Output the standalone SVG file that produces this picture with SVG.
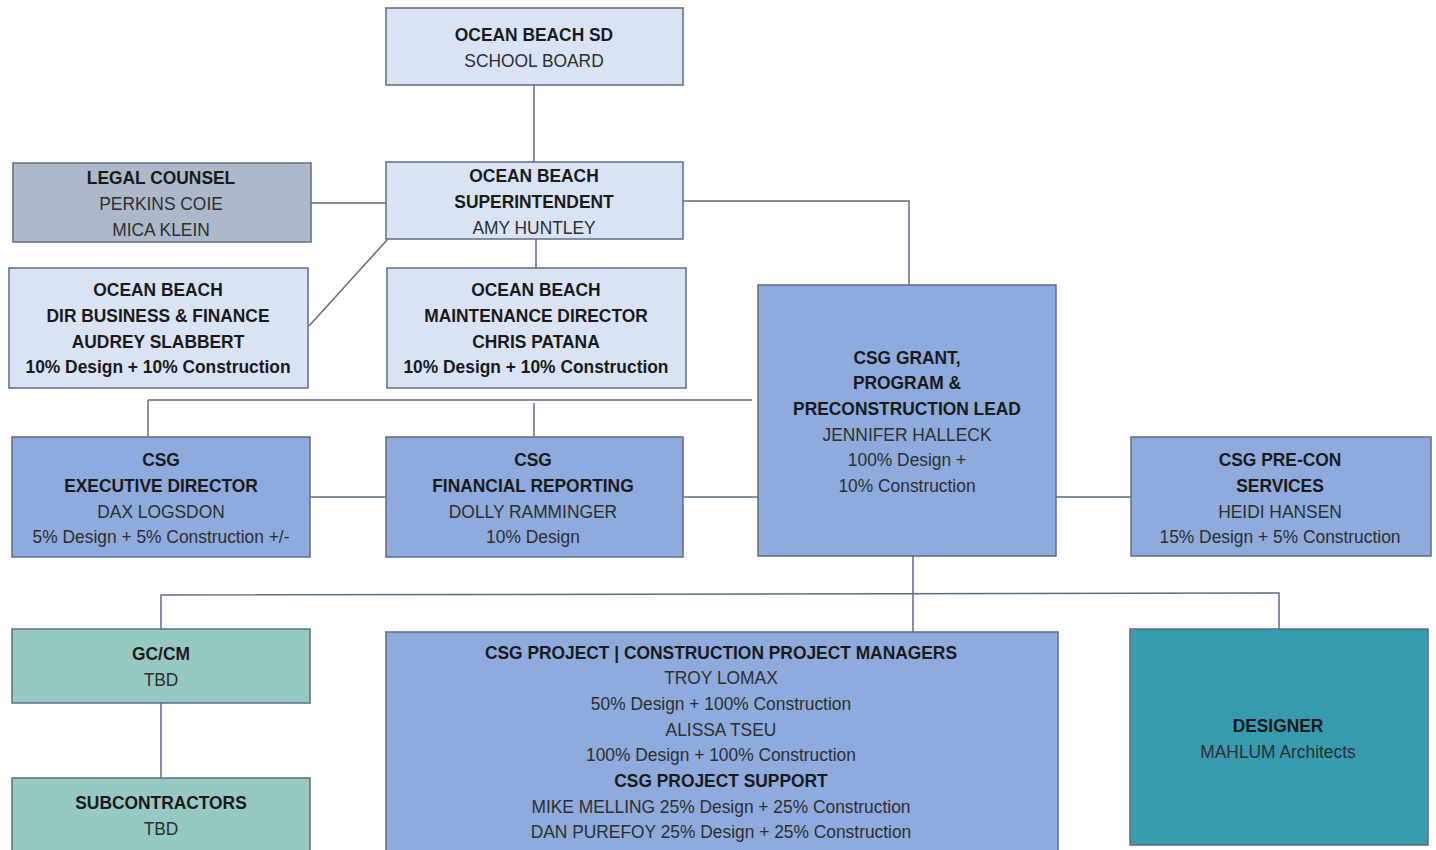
<svg xmlns="http://www.w3.org/2000/svg" width="1436" height="850" viewBox="0 0 1436 850">
<style>
rect{stroke:#5d6d84;stroke-width:1.5}
.lb{fill:#dae3f3}.gr{fill:#adb9ca}.mb{fill:#8faadc}.tl{fill:#97c9c3}.tk{fill:#379bb0}
text{font-family:"Liberation Sans",Arial,sans-serif;font-size:18.5px;text-anchor:middle;transform:scaleX(.94)}
.b{font-weight:bold;fill:#1a1a1a}.r{fill:#2e2e2e}
.c line,.c path{stroke:#5d6d84;stroke-width:1.5;fill:none}
</style>
<rect width="1436" height="850" fill="#fff" style="stroke:none"/>
<g class="c" id="connectors">
<line x1="534" y1="85" x2="534" y2="162"/>
<line x1="311" y1="203" x2="386" y2="203"/>
<line x1="387" y1="240" x2="309" y2="326"/>
<line x1="536" y1="239" x2="536" y2="268"/>
<path d="M683 201H909V285"/>
<line x1="148" y1="400" x2="752" y2="400"/>
<line x1="148" y1="400" x2="148" y2="437"/>
<line x1="534" y1="403" x2="534" y2="437"/>
<line x1="310" y1="497" x2="386" y2="497"/>
<line x1="683" y1="497" x2="758" y2="497"/>
<line x1="1056" y1="497" x2="1131" y2="497"/>
<line x1="913" y1="556" x2="913" y2="632"/>
<path d="M161 629V595L1279 593V629"/>
<line x1="161" y1="703" x2="161" y2="778"/>
</g>
<g id="school-board"><rect class="lb" x="386" y="8" width="297" height="77"/>
<text x="568.1" y="41" class="b">OCEAN BEACH SD</text><text x="568.1" y="67" class="r">SCHOOL BOARD</text></g>
<g id="legal"><rect class="gr" x="13" y="163" width="298" height="79"/>
<text x="171.3" y="184" class="b">LEGAL COUNSEL</text><text x="171.3" y="210" class="r">PERKINS COIE</text><text x="171.3" y="236" class="r">MICA KLEIN</text></g>
<g id="superintendent"><rect class="lb" x="386" y="162" width="297" height="77"/>
<text x="568.1" y="182" class="b">OCEAN BEACH</text><text x="568.1" y="208" class="b">SUPERINTENDENT</text><text x="568.1" y="234" class="r">AMY HUNTLEY</text></g>
<g id="dir-business"><rect class="lb" x="9" y="268" width="299" height="120"/>
<text x="168.1" y="296" class="b">OCEAN BEACH</text><text x="168.1" y="322" class="b">DIR BUSINESS &amp; FINANCE</text><text x="168.1" y="348" class="b">AUDREY SLABBERT</text><text x="168.1" y="373" class="b">10% Design + 10% Construction</text></g>
<g id="maintenance"><rect class="lb" x="387" y="268" width="299" height="120"/>
<text x="570.2" y="296" class="b">OCEAN BEACH</text><text x="570.2" y="322" class="b">MAINTENANCE DIRECTOR</text><text x="570.2" y="348" class="b">CHRIS PATANA</text><text x="570.2" y="373" class="b">10% Design + 10% Construction</text></g>
<g id="csg-grant"><rect class="mb" x="758" y="285" width="298" height="271"/>
<text x="964.9" y="364" class="b">CSG GRANT,</text><text x="964.9" y="389" class="b">PROGRAM &amp;</text><text x="964.9" y="415" class="b">PRECONSTRUCTION LEAD</text><text x="964.9" y="441" class="r">JENNIFER HALLECK</text><text x="964.9" y="466" class="r">100% Design +</text><text x="964.9" y="492" class="r">10% Construction</text></g>
<g id="exec-dir"><rect class="mb" x="12" y="437" width="298" height="120"/>
<text x="171.3" y="466" class="b">CSG</text><text x="171.3" y="492" class="b">EXECUTIVE DIRECTOR</text><text x="171.3" y="518" class="r">DAX LOGSDON</text><text x="171.3" y="543" class="r">5% Design + 5% Construction +/-</text></g>
<g id="financial"><rect class="mb" x="386" y="437" width="297" height="120"/>
<text x="567" y="466" class="b">CSG</text><text x="567" y="492" class="b">FINANCIAL REPORTING</text><text x="567" y="518" class="r">DOLLY RAMMINGER</text><text x="567" y="543" class="r">10% Design</text></g>
<g id="precon"><rect class="mb" x="1131" y="437" width="300" height="119"/>
<text x="1361.7" y="466" class="b">CSG PRE-CON</text><text x="1361.7" y="492" class="b">SERVICES</text><text x="1361.7" y="518" class="r">HEIDI HANSEN</text><text x="1361.7" y="543" class="r">15% Design + 5% Construction</text></g>
<g id="gccm"><rect class="tl" x="12" y="629" width="298" height="74"/>
<text x="171.3" y="660" class="b">GC/CM</text><text x="171.3" y="686" class="r">TBD</text></g>
<g id="subcontractors"><rect class="tl" x="12" y="778" width="298" height="80"/>
<text x="171.3" y="809" class="b">SUBCONTRACTORS</text><text x="171.3" y="835" class="r">TBD</text></g>
<g id="csg-project"><rect class="mb" x="386" y="632" width="672" height="226"/>
<text x="767" y="659" class="b">CSG PROJECT | CONSTRUCTION PROJECT MANAGERS</text>
<text x="767" y="684" class="r">TROY LOMAX</text>
<text x="767" y="710" class="r">50% Design + 100% Construction</text>
<text x="767" y="736" class="r">ALISSA TSEU</text>
<text x="767" y="761" class="r">100% Design + 100% Construction</text>
<text x="767" y="787" class="b">CSG PROJECT SUPPORT</text>
<text x="767" y="813" class="r">MIKE MELLING 25% Design + 25% Construction</text>
<text x="767" y="838" class="r">DAN PUREFOY 25% Design + 25% Construction</text></g>
<g id="designer"><rect class="tk" x="1130" y="629" width="298" height="216"/>
<text x="1359.6" y="732" class="b">DESIGNER</text><text x="1359.6" y="758" class="r">MAHLUM Architects</text></g>
</svg>
